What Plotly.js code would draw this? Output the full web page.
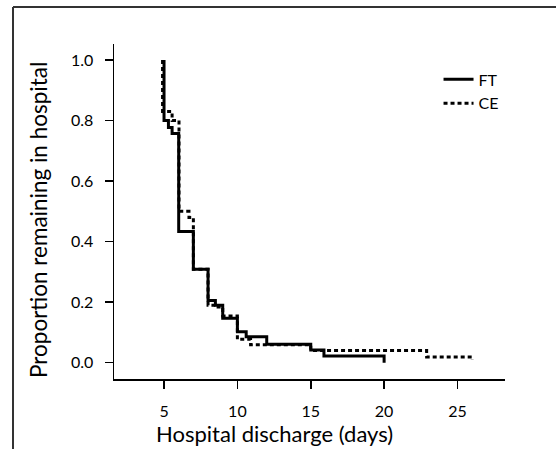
<!DOCTYPE html>
<html>
<head>
<meta charset="utf-8">
<script src="https://cdn.plot.ly/plotly-3.0.1.min.js"></script>
<style>html,body{margin:0;padding:0;background:#fff;}#chart{width:556px;height:449px;}</style>
</head>
<body>
<div id="chart"></div>
<script>
// Kaplan-Meier step data
const ftDays = [5, 5, 5.3, 5.55, 6, 7, 8, 8.5, 9, 10, 10.6, 12, 15, 15.9, 20];
const ftProp = [1.0, 0.80, 0.777, 0.757, 0.433, 0.309, 0.205, 0.19, 0.147, 0.102, 0.086, 0.061, 0.042, 0.022, 0.0];
const ceDays = [4.9, 4.9, 5.55, 6.02, 6.7, 7, 8, 8.5, 9, 10, 10.9, 15, 22.9, 26];
const ceProp = [1.0, 0.83, 0.80, 0.50, 0.48, 0.309, 0.19, 0.184, 0.154, 0.077, 0.059, 0.04, 0.019, 0.01];
const xTicks = [5, 10, 15, 20, 25];
const yTicks = [0.0, 0.2, 0.4, 0.6, 0.8, 1.0];
const yTickText = ['0.0', '0.2', '0.4', '0.6', '0.8', '1.0'];
const seriesNames = ['FT', 'CE'];
const xTitle = 'Hospital discharge (days)';
const yTitle = 'Proportion remaining in hospital';

const FONT = 'Lato, "Open Sans", sans-serif';

const traces = [
  {x: ftDays, y: ftProp, name: seriesNames[0], mode: 'lines', line: {shape: 'hv', color: '#000', width: 3}},
  {x: ceDays, y: ceProp, name: seriesNames[1], mode: 'lines', line: {shape: 'hv', color: '#000', width: 3, dash: '4px,3px'}}
];

// plot area: x 114..505 px, y 44..379 px
const layout = {
  width: 556, height: 449,
  margin: {l: 114, r: 51, t: 44, b: 70},
  paper_bgcolor: '#fff', plot_bgcolor: '#fff',
  font: {family: FONT, color: '#000', size: 15},
  showlegend: true,
  legend: {x: 0.83, y: 0.945, xanchor: 'left', yanchor: 'top', bgcolor: 'rgba(0,0,0,0)',
           font: {family: FONT, size: 16, color: '#000'}, itemwidth: 30, tracegroupgap: 0},
  xaxis: {
    range: [1.59, 28.24], tickvals: xTicks, ticktext: xTicks.map(String),
    showgrid: false, zeroline: false, showline: true, linecolor: '#000', linewidth: 1.5,
    ticks: 'outside', ticklen: 8, tickwidth: 1.5, tickcolor: '#000',
    tickfont: {family: FONT, size: 16}, ticklabelstandoff: 9
  },
  yaxis: {
    range: [-0.054, 1.053], tickvals: yTicks, ticktext: yTickText,
    showgrid: false, zeroline: false, showline: true, linecolor: '#000', linewidth: 1.5,
    ticks: 'outside', ticklen: 8, tickwidth: 1.5, tickcolor: '#000',
    tickfont: {family: FONT, size: 16}, ticklabelstandoff: 8
  },
  annotations: [
    {text: xTitle, xref: 'paper', yref: 'paper', x: (274 - 114) / 391, y: (379 - 433) / 335,
     xanchor: 'center', yanchor: 'middle', showarrow: false, font: {family: FONT, size: 22, color: '#000'}},
    {text: yTitle, xref: 'paper', yref: 'paper', x: (38 - 114) / 391, y: (379 - 220) / 335, textangle: -90,
     xanchor: 'center', yanchor: 'middle', showarrow: false, font: {family: FONT, size: 22.5, color: '#000'}}
  ],
  shapes: [
    {type: 'line', xref: 'paper', yref: 'paper', x0: -0.2583, x1: 1.14, y0: 1.1104, y1: 1.1104, line: {color: '#333', width: 2}},
    {type: 'line', xref: 'paper', yref: 'paper', x0: -0.2583, x1: -0.2583, y0: 1.1104, y1: -0.22, line: {color: '#333', width: 2}}
  ]
};

Plotly.newPlot('chart', traces, layout, {displayModeBar: false, staticPlot: true});
</script>
</body>
</html>
